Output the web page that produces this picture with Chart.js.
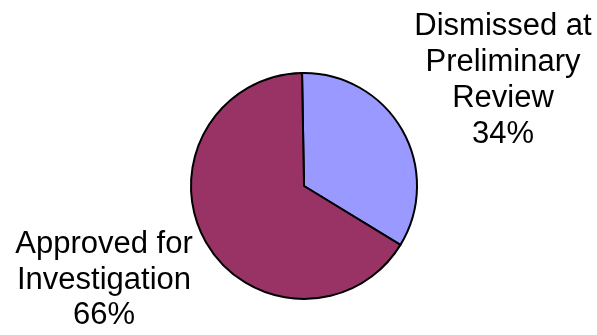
<!DOCTYPE html>
<html>
<head>
<meta charset="utf-8">
<script src="https://cdn.jsdelivr.net/npm/chart.js@4/dist/chart.umd.min.js"></script>
<style>
  html, body { margin: 0; padding: 0; background: #fff; }
  #wrap { width: 597px; height: 335px; }
</style>
</head>
<body>
<div id="wrap"><canvas id="chart"></canvas></div>
<script>
const categories = [['Dismissed at', 'Preliminary', 'Review'], ['Approved for', 'Investigation']]
const values = [34, 66]
const colors = ['#9999FF', '#993366']

// where each label's first baseline sits, relative to the pie centre (px)
const labelAnchors = [[199, -151, 36], [-200, 67, 35.5]]

const outsideLabels = {
  id: 'outsideLabels',
  afterDatasetsDraw(chart) {
    const ctx = chart.ctx
    const arcs = chart.getDatasetMeta(0).data
    const total = values.reduce((a, b) => a + b, 0)
    ctx.save()
    ctx.font = '31px Arial, "Liberation Sans", sans-serif'
    ctx.fillStyle = '#000'
    ctx.textAlign = 'center'
    ctx.textBaseline = 'alphabetic'
    arcs.forEach((arc, i) => {
      const lines = [...categories[i], Math.round(values[i] / total * 100) + '%']
      const [dx, dy, lh] = labelAnchors[i]
      lines.forEach((t, j) => {
        ctx.fillText(t, arc.x + dx, arc.y + dy + j * lh)
      })
    })
    ctx.restore()
  }
}

new Chart(document.getElementById('chart').getContext('2d'), {
  type: 'pie',
  data: {
    labels: categories.map(c => c.join(' ')),
    datasets: [{
      data: values,
      backgroundColor: colors,
      borderColor: '#000',
      borderWidth: 2
    }]
  },
  options: {
    responsive: true,
    maintainAspectRatio: false,
    animation: false,
    rotation: -1,
    layout: { padding: { top: 72, bottom: 35, left: 100, right: 89 } },
    plugins: {
      legend: { display: false },
      tooltip: { enabled: false }
    }
  },
  plugins: [outsideLabels]
})
</script>
</body>
</html>
